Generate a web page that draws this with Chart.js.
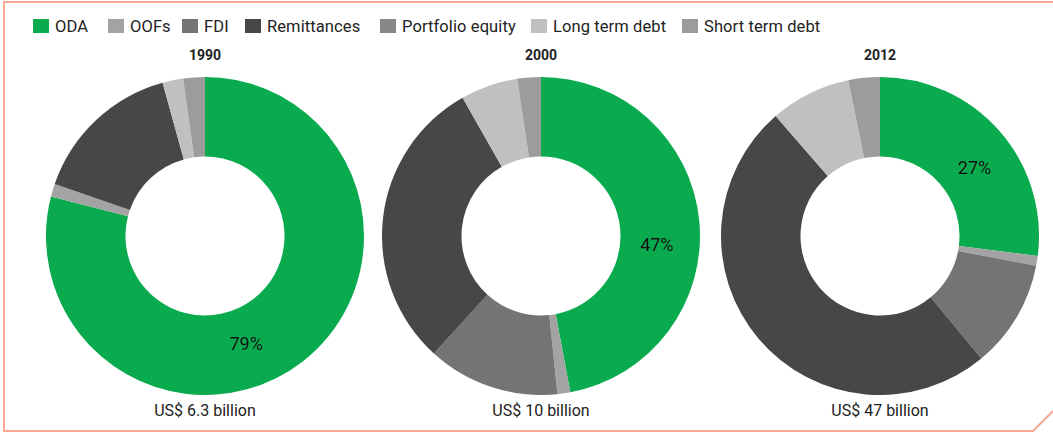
<!DOCTYPE html>
<html lang="en">
  <head>
    <meta charset="UTF-8" />
    <title>Financial flows by year</title>
    <script src="https://cdn.jsdelivr.net/npm/chart.js"></script>
    <style>
      body {
        margin: 0;
        width: 1053px;
        height: 432px;
        background: #fff;
        font-family: "Roboto", "Liberation Sans", sans-serif;
        color: #222;
        position: relative;
        overflow: hidden;
      }
      #frame {
        position: absolute;
        left: 0;
        top: 0;
      }
      .item {
        position: absolute;
        top: 18px;
        height: 16px;
        display: flex;
        align-items: center;
        font-size: 16.5px;
        letter-spacing: 0.1px;
        white-space: nowrap;
      }
      .item .box {
        width: 16px;
        height: 14px;
        margin-right: 6px;
      }
      .pie {
        position: absolute;
        top: 77px;
        width: 318px;
        height: 318px;
      }
      .year {
        position: absolute;
        top: 47px;
        width: 200px;
        text-align: center;
        font-weight: bold;
        font-size: 14px;
      }
      .total {
        position: absolute;
        top: 401px;
        width: 240px;
        text-align: center;
        font-size: 16px;
      }
    </style>
  </head>
  <body>
    <svg id="frame" width="1053" height="432">
      <polyline
        points="1053,2 4,2 4,431 1033,431 1053,411"
        fill="none"
        stroke="#f7a88e"
        stroke-width="2"
      />
    </svg>

    <script>
      // flows, share of total (%)
      const flows = ["ODA", "OOFs", "FDI", "Remittances", "Portfolio equity", "Long term debt", "Short term debt"];
      const colors = ["#0aab4e", "#a3a3a3", "#747474", "#474747", "#888888", "#c0c0c0", "#9c9c9c"];

      const years = ["1990", "2000", "2012"];
      const totals = ["US$ 6.3 billion", "US$ 10 billion", "US$ 47 billion"];

      const shares1990 = [79, 1.3, 0, 15.4, 0, 2.1, 2.2];
      const shares2000 = [47, 1.3, 13.4, 30.0, 0, 5.8, 2.4];
      const shares2012 = [27, 1.0, 11.0, 49.6, 0, 8.2, 3.2];
      const shares = [shares1990, shares2000, shares2012];

      // layout
      const legendX = [33, 108, 182, 245, 380, 531, 682];
      const centersX = [205, 541, 880];
      const pieSize = 318;

      // legend
      flows.forEach((name, i) => {
        const item = document.createElement("div");
        item.className = "item";
        item.style.left = legendX[i] + "px";
        item.innerHTML = `<span class="box" style="background:${colors[i]}"></span><span>${name}</span>`;
        document.body.appendChild(item);
      });

      // percentage label on the ODA slice, a bit past the middle of the arc
      const odaLabel = {
        id: "odaLabel",
        afterDatasetsDraw(chart) {
          const arc = chart.getDatasetMeta(0).data[0];
          const value = chart.data.datasets[0].data[0];
          const { x, y, startAngle, endAngle, innerRadius, outerRadius } = arc.getProps(
            ["x", "y", "startAngle", "endAngle", "innerRadius", "outerRadius"],
            true
          );
          const a = startAngle + (endAngle - startAngle) * 0.56;
          const r = (innerRadius + outerRadius) / 2 - 3;
          const ctx = chart.ctx;
          ctx.save();
          ctx.font = '18px "Roboto", "Liberation Sans", sans-serif';
          ctx.fillStyle = "#111";
          ctx.textAlign = "center";
          ctx.textBaseline = "middle";
          ctx.fillText(Math.round(value) + "%", x + r * Math.cos(a), y + r * Math.sin(a) + 1);
          ctx.restore();
        },
      };

      years.forEach((year, k) => {
        const cx = centersX[k];

        const title = document.createElement("div");
        title.className = "year";
        title.style.left = cx - 100 + "px";
        title.textContent = year;
        document.body.appendChild(title);

        const total = document.createElement("div");
        total.className = "total";
        total.style.left = cx - 120 + "px";
        total.textContent = totals[k];
        document.body.appendChild(total);

        const wrap = document.createElement("div");
        wrap.className = "pie";
        wrap.style.left = cx - pieSize / 2 + "px";
        const canvas = document.createElement("canvas");
        wrap.appendChild(canvas);
        document.body.appendChild(wrap);

        new Chart(canvas, {
          type: "doughnut",
          data: {
            labels: flows,
            datasets: [
              {
                data: shares[k],
                backgroundColor: colors,
                borderWidth: 0,
                hoverOffset: 0,
              },
            ],
          },
          options: {
            responsive: true,
            maintainAspectRatio: false,
            animation: false,
            cutout: "50%",
            plugins: {
              legend: { display: false },
              tooltip: { enabled: false },
            },
          },
          plugins: [odaLabel],
        });
      });
    </script>
  </body>
</html>
